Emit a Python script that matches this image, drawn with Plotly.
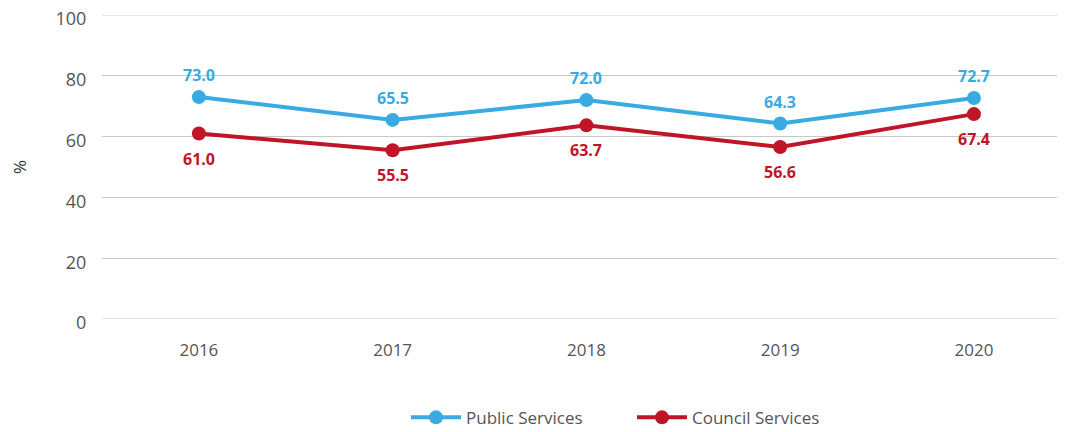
import plotly.graph_objects as go

years = ["2016", "2017", "2018", "2019", "2020"]
public_services = [73.0, 65.5, 72.0, 64.3, 72.7]
council_services = [61.0, 55.5, 63.7, 56.6, 67.4]
y_ticks = [0, 20, 40, 60, 80, 100]

BLUE = "#3AABE2"
RED = "#C01526"
FONT = "Open Sans"
GRID = "#C8C8C8"

fig = go.Figure()
fig.add_trace(go.Scatter(
    x=years, y=public_services, name="Public Services",
    mode="lines+markers",
    line=dict(color=BLUE, width=4), marker=dict(color=BLUE, size=14),
))
fig.add_trace(go.Scatter(
    x=years, y=council_services, name="Council Services",
    mode="lines+markers",
    line=dict(color=RED, width=4), marker=dict(color=RED, size=14),
))

# category axis: annotation x given as category index
for i, v in enumerate(public_services):
    fig.add_annotation(x=i, y=v, xref="x", yref="y", text=f"{v:.1f}", showarrow=False,
                       yshift=22, font=dict(family=FONT, size=16, color=BLUE, weight="bold"))
for i, v in enumerate(council_services):
    fig.add_annotation(x=i, y=v, xref="x", yref="y", text=f"{v:.1f}", showarrow=False,
                       yshift=-25, font=dict(family=FONT, size=16, color=RED, weight="bold"))

fig.update_layout(
    width=1057, height=424,
    margin=dict(l=94, r=0, t=7, b=113, autoexpand=False),
    plot_bgcolor="white", paper_bgcolor="white",
    font=dict(family=FONT, color="#555555", size=17),
    showlegend=True,
    legend=dict(orientation="h", x=(398 - 94) / 963, xanchor="left", y=-0.325, yanchor="middle",
                font=dict(size=17, color="#555555"), itemwidth=50, entrywidthmode="pixels",
                entrywidth=161),
    xaxis=dict(type="category", range=[-0.5, 4.47], showgrid=False, zeroline=False,
               showline=False, ticks="outside", ticklen=16, tickcolor="rgba(0,0,0,0)",
               tickfont=dict(size=17, color="#555555"), automargin=False),
    yaxis=dict(range=[0, 100], tickvals=y_ticks, showgrid=True, gridcolor=GRID,
               gridwidth=1, zeroline=False, showline=False, automargin=False,
               ticklabeloverflow="allow", ticklabelshift=4,
               ticks="outside", ticklen=11, tickcolor="rgba(0,0,0,0)",
               tickfont=dict(size=18, color="#555555"),
               title=dict(text="%", standoff=34, font=dict(size=17, color="#333333"))),
)
# gridlines at the range ends (0 and 100) drawn explicitly
for yv in (y_ticks[0], y_ticks[-1]):
    fig.add_shape(type="line", xref="paper", yref="y", x0=0, x1=1, y0=yv, y1=yv,
                  line=dict(color=GRID, width=1), layer="below")

fig.write_html("out.html")
